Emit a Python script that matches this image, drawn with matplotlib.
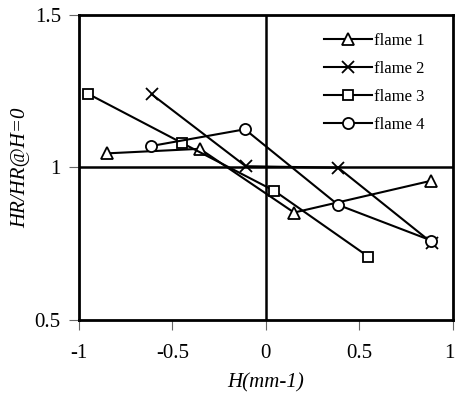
import matplotlib
matplotlib.use("Agg")
import matplotlib.pyplot as plt
import matplotlib.transforms as mtransforms

# values
h_flame1 = [-0.852, -0.353, 0.151, 0.882]
hr_flame1 = [1.046, 1.061, 0.852, 0.956]

h_flame2 = [-0.611, -0.108, 0.387, 0.89]
hr_flame2 = [1.240, 1.004, 0.999, 0.752]

h_flame3 = [-0.953, -0.451, 0.046, 0.549]
hr_flame3 = [1.242, 1.081, 0.923, 0.707]

h_flame4 = [-0.615, -0.112, 0.387, 0.886]
hr_flame4 = [1.070, 1.125, 0.877, 0.760]

x_ticks = [-1, -0.5, 0, 0.5, 1]
x_tick_labels = ["-1", "-0.5", "0", "0.5", "1"]
y_ticks = [0.5, 1, 1.5]
y_tick_labels = ["0.5", "1", "1.5"]

plt.rcParams["font.family"] = ["Liberation Serif", "DejaVu Serif"]

fig = plt.figure(figsize=(4.56, 3.93), dpi=100)
ax = fig.add_axes([0.173, 0.186, 0.820, 0.776])

ax.axvline(0, color="black", lw=1.8, zorder=1)
ax.axhline(1, color="black", lw=1.8, zorder=1)

style = dict(color="black", lw=1.5, markerfacecolor="white",
             markeredgecolor="black", markeredgewidth=1.3, zorder=3)
ax.plot(h_flame1, hr_flame1, marker="^", ms=8, label="flame 1", **style)
ax.plot(h_flame2, hr_flame2, marker="x", ms=8.5, label="flame 2", **style)
ax.plot(h_flame3, hr_flame3, marker="s", ms=7.5, label="flame 3", **style)
ax.plot(h_flame4, hr_flame4, marker="o", ms=8, label="flame 4", **style)

ax.set_xlim(-1, 1)
ax.set_ylim(0.5, 1.5)
ax.set_xticks(x_ticks)
ax.set_xticklabels(x_tick_labels)
ax.set_yticks(y_ticks)
ax.set_yticklabels(y_tick_labels)
ax.tick_params(direction="out", length=7, width=0.8, color="#666666",
               labelsize=15, pad=6)
ax.tick_params(axis="x", pad=10)
for sp in ax.spines.values():
    sp.set_linewidth(2)

# nudge the last x label so it stays inside the picture
last = ax.get_xticklabels()[-1]
last.set_transform(last.get_transform() +
                   mtransforms.ScaledTranslation(-3 / 100, 0, fig.dpi_scale_trans))

ax.set_xlabel("H(mm-1)", fontsize=15, style="italic", labelpad=8)
ax.set_ylabel("HR/HR@H=0", fontsize=15, style="italic", labelpad=3)

ax.legend(loc="upper right", frameon=False, fontsize=12, handlelength=2.9,
          handletextpad=0.15, labelspacing=0.72, borderaxespad=0.6,
          bbox_to_anchor=(0.97, 0.995))

fig.savefig("out.png", dpi=100)
